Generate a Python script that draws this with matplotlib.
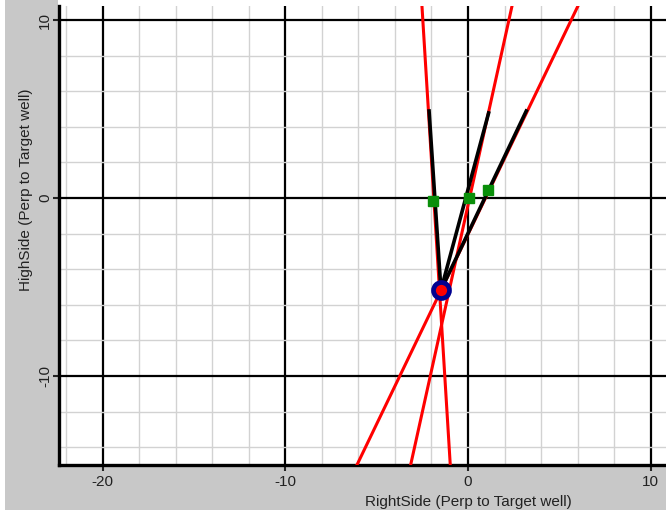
import matplotlib
matplotlib.use('Agg')
from matplotlib import pyplot as plt
from matplotlib.ticker import MultipleLocator
from matplotlib.patches import Rectangle

# Datos (RightSide, HighSide)
cruce = (-1.48, -5.17)

lineas_top_x = [-2.52, 2.41, 6.02]
lineas_bot_x = [-0.97, -3.14, -6.08]
lineas_top_y = 10.79
lineas_bot_y = -15.0

tramos_x = [-2.13, 1.13, 3.19]
tramos_y = [4.89, 4.78, 4.89]

puntos_x = [-1.89, 0.03, 1.08]
puntos_y = [-0.17, 0.0, 0.45]

x_ticks = [-20, -10, 0, 10]
y_ticks = [-10, 0, 10]

plt.rcParams['font.family'] = ['Liberation Sans', 'DejaVu Sans']

fig = plt.figure(figsize=(6.66, 5.11), dpi=100)
fig.patch.set_facecolor('white')
# panel gris de fondo y franja blanca sobre el area del grafico
fig.patches.append(Rectangle((5 / 666, 1 / 511), 1, 1, transform=fig.transFigure,
                             facecolor='#c8c8c8', edgecolor='none', zorder=-5))
fig.patches.append(Rectangle((58 / 666, 505 / 511), 1, 1, transform=fig.transFigure,
                             facecolor='white', edgecolor='none', zorder=-4))

ax = fig.add_axes([59 / 666, 46 / 511, 607 / 666, 459 / 511])
ax.set_zorder(1)
ax.set_facecolor('white')
ax.set_xlim(-22.39, 10.84)
ax.set_ylim(-15.0, 10.79)

ax.xaxis.set_major_locator(MultipleLocator(10))
ax.xaxis.set_minor_locator(MultipleLocator(2))
ax.yaxis.set_major_locator(MultipleLocator(10))
ax.yaxis.set_minor_locator(MultipleLocator(2))
ax.set_xticks(x_ticks)
ax.set_yticks(y_ticks)
ax.set_xticklabels([str(v) for v in x_ticks])
ax.set_yticklabels([str(v) for v in y_ticks], rotation=90, va='center')

ax.grid(which='minor', color='#d2d2d2', linewidth=1.0, zorder=0)
ax.grid(which='major', color='black', linewidth=1.6, zorder=1)
ax.set_axisbelow(True)

for lado in ['top', 'right']:
    ax.spines[lado].set_visible(False)
for lado in ['left', 'bottom']:
    ax.spines[lado].set_linewidth(2.4)
    ax.spines[lado].set_color('black')

ax.tick_params(axis='both', which='major', length=4, width=1.5, labelsize=11,
               colors='#222222')
ax.tick_params(axis='x', which='major', pad=3)
ax.tick_params(axis='y', which='major', pad=1)
ax.tick_params(axis='both', which='minor', length=0)

# lineas rojas
for xt, xb in zip(lineas_top_x, lineas_bot_x):
    ax.plot([xt, xb], [lineas_top_y, lineas_bot_y], color='#ff0000', lw=2.2,
            zorder=3, clip_on=True)

# tramos negros desde el cruce
for xt, yt in zip(tramos_x, tramos_y):
    ax.plot([cruce[0], xt], [cruce[1], yt], color='black', lw=2.6, zorder=4)

# puntos verdes
ax.plot(puntos_x, puntos_y, 's', color='#0a8f0a', markersize=7.5, zorder=5)

# circulo del cruce
ax.plot([cruce[0]], [cruce[1]], 'o', markersize=11.5, markerfacecolor='#ff0000',
        markeredgecolor='#000090', markeredgewidth=3.4, zorder=6)

ax.set_xlabel('RightSide (Perp to Target well)', fontsize=11, color='#222222')
ax.set_ylabel('HighSide (Perp to Target well)', fontsize=11, color='#222222')
ax.xaxis.set_label_coords(0.675, -0.066)
ax.yaxis.set_label_coords(-0.043, 0.60)

fig.savefig('out.png', dpi=100)
